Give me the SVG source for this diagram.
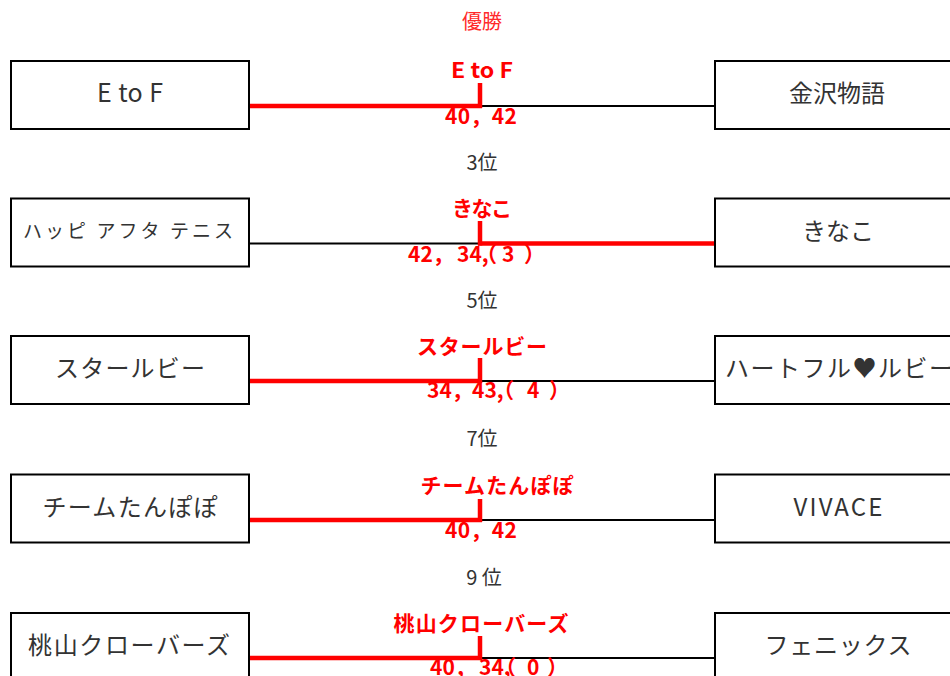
<svg xmlns="http://www.w3.org/2000/svg" width="950" height="676" viewBox="0 0 950 676">
<style>
.box{fill:#fff;stroke:#000;stroke-width:2}
.nt{font-family:"Noto Sans CJK JP","Noto Sans",sans-serif;font-size:24px;font-weight:400;fill:#333;text-anchor:middle;dominant-baseline:central}
.rk{font-family:"Noto Sans CJK JP","Noto Sans",sans-serif;font-size:20px;font-weight:400;fill:#333;text-anchor:middle}
.win{font-family:"Noto Sans CJK JP","Noto Sans",sans-serif;font-size:21px;font-weight:700;fill:#ff0000;text-anchor:middle}
.sc{font-family:"Noto Sans CJK JP","Noto Sans",sans-serif;font-size:21px;font-weight:700;fill:#ff0000;text-anchor:start}
.thin{stroke:#000;stroke-width:2;fill:none}
.red{stroke:#ff0000;stroke-width:4.5;fill:none}
</style>
<rect width="950" height="676" fill="#fff"/>
<g id="connectors">
  <line class="thin" x1="480" y1="106" x2="715" y2="106"/>
  <line class="red" x1="249" y1="106" x2="482" y2="106"/>
  <line class="red" x1="480" y1="83" x2="480" y2="108"/>

  <line class="thin" x1="249" y1="243.5" x2="480" y2="243.5"/>
  <line class="red" x1="478" y1="243.5" x2="715" y2="243.5"/>
  <line class="red" x1="480" y1="221" x2="480" y2="245.5"/>

  <line class="thin" x1="480" y1="381" x2="715" y2="381"/>
  <line class="red" x1="249" y1="381" x2="482" y2="381"/>
  <line class="red" x1="480" y1="358" x2="480" y2="383"/>

  <line class="thin" x1="480" y1="520" x2="715" y2="520"/>
  <line class="red" x1="249" y1="520" x2="482" y2="520"/>
  <line class="red" x1="480" y1="499" x2="480" y2="522"/>

  <line class="thin" x1="480" y1="658" x2="715" y2="658"/>
  <line class="red" x1="249" y1="658" x2="482" y2="658"/>
  <line class="red" x1="480" y1="636" x2="480" y2="660"/>
</g>
<g id="labels">
  <text class="rk" x="482" y="29" style="fill:#ff2a2a">優勝</text>
  <text class="rk" x="482" y="170">3位</text>
  <text class="rk" x="482" y="308">5位</text>
  <text class="rk" x="482" y="446">7位</text>
  <text class="rk" x="484" y="585">9 位</text>

  <text class="win" x="482" y="78" textLength="62" lengthAdjust="spacingAndGlyphs">E to F</text>
  <text class="win" x="481" y="124" textLength="72" lengthAdjust="spacing">40，42</text>
  <text class="win" x="482" y="216" textLength="60" lengthAdjust="spacing">きなこ</text>
  <text class="sc" y="262"><tspan x="408">42，</tspan><tspan x="457">34,</tspan><tspan x="476">（</tspan><tspan x="502">3</tspan><tspan x="524">）</tspan></text>
  <text class="win" x="482" y="354" textLength="130" lengthAdjust="spacing">スタールビー</text>
  <text class="sc" y="398"><tspan x="427">34，</tspan><tspan x="472">43,</tspan><tspan x="493">（</tspan><tspan x="527">4</tspan><tspan x="549">）</tspan></text>
  <text class="win" x="497" y="493" textLength="153" lengthAdjust="spacing">チームたんぽぽ</text>
  <text class="win" x="481" y="538" textLength="72" lengthAdjust="spacing">40，42</text>
  <text class="win" x="481" y="631" textLength="175" lengthAdjust="spacing">桃山クローバーズ</text>
  <text class="sc" y="675"><tspan x="430">40，</tspan><tspan x="479">34,</tspan><tspan x="495">（</tspan><tspan x="527">0</tspan><tspan x="547">）</tspan></text>
</g>
<g id="node-l1"><rect class="box" x="11" y="61" width="238" height="68"/><text class="nt" x="130" y="91" style="font-size:25px" textLength="66" lengthAdjust="spacing">E to F</text></g>
<g id="node-r1"><rect class="box" x="715" y="61" width="250" height="68"/><text class="nt" x="837" y="91">金沢物語</text></g>
<g id="node-l2"><rect class="box" x="11" y="198.5" width="238" height="68"/><text class="nt" x="128" y="229" style="font-size:19px" textLength="210" lengthAdjust="spacing">ハッピ アフタ テニス</text></g>
<g id="node-r2"><rect class="box" x="715" y="198.5" width="250" height="68"/><text class="nt" x="838" y="229">きなこ</text></g>
<g id="node-l3"><rect class="box" x="11" y="336" width="238" height="68"/><text class="nt" x="130" y="366" textLength="150" lengthAdjust="spacing">スタールビー</text></g>
<g id="node-r3"><rect class="box" x="715" y="336" width="250" height="68"/><text class="nt" x="839" y="366" textLength="228" lengthAdjust="spacing">ハートフル♥ルビー</text></g>
<g id="node-l4"><rect class="box" x="11" y="474.5" width="238" height="68"/><text class="nt" x="130" y="505" textLength="175" lengthAdjust="spacing">チームたんぽぽ</text></g>
<g id="node-r4"><rect class="box" x="715" y="474.5" width="250" height="68"/><text class="nt" x="838" y="505" textLength="89" lengthAdjust="spacing">VIVACE</text></g>
<g id="node-l5"><rect class="box" x="11" y="613" width="238" height="68"/><text class="nt" x="129" y="643" textLength="202" lengthAdjust="spacing">桃山クローバーズ</text></g>
<g id="node-r5"><rect class="box" x="715" y="613" width="250" height="68"/><text class="nt" x="838" y="643" textLength="147" lengthAdjust="spacing">フェニックス</text></g>
</svg>
